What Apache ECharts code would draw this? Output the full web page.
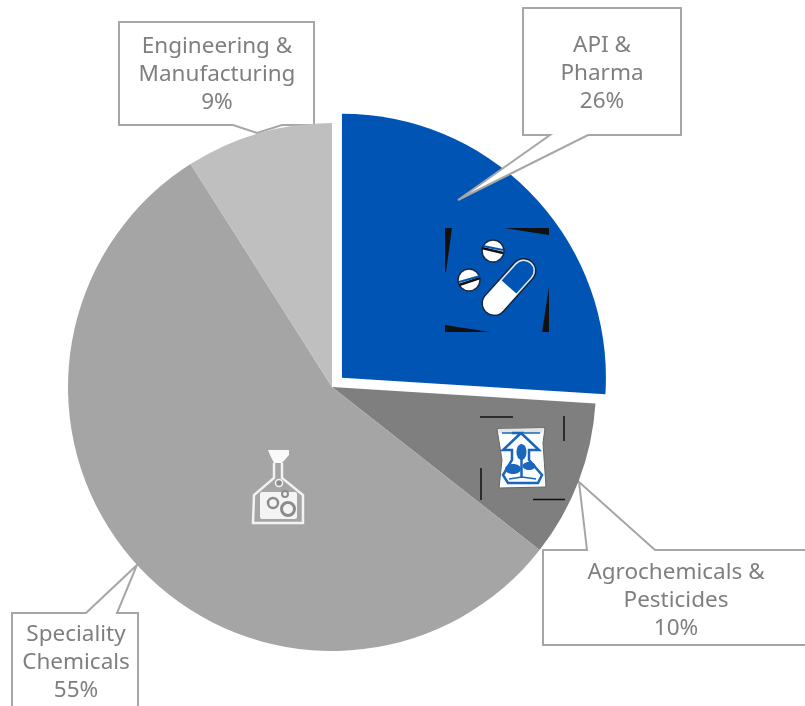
<!DOCTYPE html>
<html><head><meta charset="utf-8">
<style>html,body{margin:0;padding:0;background:#fff}#c{width:805px;height:706px}</style>
<script src="https://cdn.jsdelivr.net/npm/echarts@6/dist/echarts.min.js"></script>
</head><body><div id="c"></div>
<script>
const categories = ['API &\nPharma', 'Agrochemicals &\nPesticides', 'Speciality\nChemicals', 'Engineering &\nManufacturing'];
const shares = [26, 9.6, 55.4, 9];
const sliceColors = ['#0054b4', '#7f7f7f', '#a5a5a5', '#bfbfbf'];
const labelAnchors = [[602, 74], [676, 601], [76, 663], [217, 75]];

const GREY = '#a6a6a6', BLUE = '#0054b4', INK = '#111';
const box = (points, z) => ({type:'polygon', z, silent:true, shape:{points}, style:{fill:'#fff', stroke:GREY, lineWidth:2, lineJoin:'miter'}});
const callouts = [
  box([[523,8],[681,8],[681,135],[588,135],[458,200],[550,135],[523,135]], 3),
  box([[119,22],[314,22],[314,125],[282,125],[257,133],[233,125],[119,125]], 1),
  box([[12,613],[86,613],[137,565],[117,613],[138,613],[138,708],[12,708]], 1),
  box([[543,550],[587,550],[579,482],[655,550],[808,550],[808,645],[543,645]], 1)
];
const calloutTexts = categories.map((name,i)=>({
  type:'text', z:6, silent:true, x:labelAnchors[i][0], y:labelAnchors[i][1],
  style:{text:name+'\n'+Math.round(shares[i])+'%', fill:'#7f7f7f', font:'22.5px "Noto Sans"', lineHeight:28, align:'center', verticalAlign:'middle'}
}));
const tri = pts => ({type:'polygon', z:4, silent:true, shape:{points:pts}, style:{fill:INK}});
const ln = (pts, stroke, w, z=4) => ({type:'polyline', z, silent:true, shape:{points:pts}, style:{fill:null, stroke, lineWidth:w}});
const circ = (cx, cy, r, fill, stroke, w, z=4) => ({type:'circle', z, silent:true, shape:{cx, cy, r}, style:{fill, stroke, lineWidth:w}});

const pills = [
  tri([[445,228],[452,228],[446,272],[445,272]]), tri([[504,228],[549,228],[549,235]]),
  tri([[549,287],[549,332],[542,332]]), tri([[445,325],[490,332],[445,332]]),
  circ(493,251,11,'#fff','#1a2a44',1.5), ln([[482,248],[503,253]],'#111',2.5,5), ln([[483,246],[503,250]],BLUE,2,5),
  circ(469,280,11,'#fff','#1a2a44',1.5), ln([[459,285],[480,278]],'#111',2.5,5), ln([[459,282],[480,276]],BLUE,2,5),
  {type:'group', x:509, y:287, rotation:48*Math.PI/180, z:4, children:[
    {type:'rect', z:4, silent:true, shape:{x:-34,y:-12,width:68,height:24,r:12}, style:{fill:BLUE, stroke:'#16243a', lineWidth:1.5}},
    {type:'rect', z:5, silent:true, shape:{x:-32.5,y:-10.5,width:65,height:21,r:10.5}, style:{fill:BLUE, stroke:'#dfe6ee', lineWidth:1.5}},
    {type:'rect', z:6, silent:true, shape:{x:-33,y:-11,width:33,height:22,r:[11,0,0,11]}, style:{fill:'#fff'}}
  ]}
];
const bagBlue = '#1a66bd';
const bag = [
  ln([[480,417],[513,417]],INK,1.5), ln([[564,416],[564,441]],INK,1.5),
  ln([[481,468],[481,500]],INK,1.5), ln([[533,499.5],[565,499.5]],INK,1.5),
  {type:'polygon', z:4, silent:true, shape:{points:[[497,429],[545,428],[543,443],[546,487],[499,488],[502,460]]}, style:{fill:'#fbfdff', stroke:'#666', lineWidth:1}},
  {type:'polygon', z:5, silent:true, shape:{points:[[498,429],[544,428],[543,433],[499,433]]}, style:{fill:'#e4e4e4'}},
  ln([[502,433],[540,433]],bagBlue,1.5,5),
  ln([[512,433],[521,433],[503,450],[512,450],[512,460],[503,475],[508,483],[538,483],[542,475],[529,460],[529,450],[539,450],[521,433]],bagBlue,2.5,5),
  ln([[521.5,455],[521.5,477]],bagBlue,2.5,5),
  {type:'ellipse', z:5, silent:true, shape:{cx:521.5,cy:452,rx:5,ry:8}, style:{fill:bagBlue}},
  {type:'ellipse', z:5, silent:true, shape:{cx:513,cy:469,rx:8,ry:5}, style:{fill:bagBlue}},
  {type:'ellipse', z:5, silent:true, shape:{cx:529,cy:466,rx:6.5,ry:4}, style:{fill:bagBlue}},
  ln([[509,479],[522,477],[536,479]],bagBlue,1.5,5)
];
const flaskGrey = '#8c8c8c';
const flask = [
  ln([[274,463],[274,478],[254,495],[253,523],[303,523],[303,495],[282,478],[282,463]],'#f2f2f2',2.5),
  {type:'polygon', z:4, silent:true, shape:{points:[[268,450],[289,450],[289,455],[282,463],[274,463],[270,455]]}, style:{fill:'#fafafa'}},
  {type:'rect', z:4, silent:true, shape:{x:260,y:492,width:37,height:27,r:2}, style:{fill:'#f4f4f4'}},
  circ(273,503,5,'#f4f4f4',flaskGrey,2.5,5), circ(288,509,6.5,'#f4f4f4',flaskGrey,3,5),
  circ(285,494,3,'#f4f4f4',flaskGrey,2,5), circ(279,483,3.5,flaskGrey,'#f4f4f4',1.5,5)
];

const chart = echarts.init(document.getElementById('c'), null, {renderer:'canvas'});
chart.setOption({
  animation:false,
  backgroundColor:'#fff',
  series:[{
    type:'pie', z:2, center:[332,387], radius:[0,264], startAngle:90, clockwise:true,
    selectedMode:'single', selectedOffset:13.6,
    data:categories.map((name,i)=>({name, value:shares[i], selected:i===0, itemStyle:{color:sliceColors[i]}})),
    label:{show:false}, labelLine:{show:false},
    emphasis:{disabled:true}
  }],
  graphic:{elements:[...callouts, ...pills, ...bag, ...flask, ...calloutTexts]}
});
</script></body></html>
